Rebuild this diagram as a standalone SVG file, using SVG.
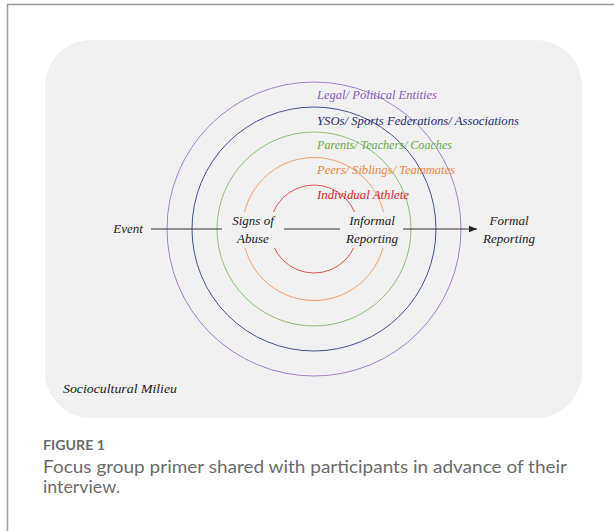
<svg xmlns="http://www.w3.org/2000/svg" width="614" height="531" viewBox="0 0 614 531">
  <defs>
    <marker id="arrowhead" viewBox="0 0 10 10" refX="10" refY="5" markerWidth="8" markerHeight="8" markerUnits="userSpaceOnUse" orient="auto">
      <path d="M0,1 L10,5 L0,9 Z" fill="#222"/>
    </marker>
    <style>
      .frame { stroke: #9a9a9a; stroke-width: 1.5; fill: none; }
      .milieu { fill: #f1f1f1; }
      .ring { fill: none; stroke-width: 1; }
      .lbl { font-family: "Liberation Serif", "Times New Roman", serif; font-style: italic; font-size: 13px; }
      .flow { fill: #1a1a1a; text-anchor: middle; }
      .mask { fill: #f1f1f1; }
      .cap { font-family: Lato, "Open Sans", "Noto Sans", sans-serif; fill: #6b6b6b; }
    </style>
  </defs>

  <rect width="614" height="531" fill="#ffffff"/>

  <!-- page frame -->
  <line class="frame" x1="7" y1="4.5" x2="614" y2="4.5"/>
  <line class="frame" x1="7.5" y1="4" x2="7.5" y2="531"/>

  <!-- sociocultural milieu panel -->
  <rect class="milieu" x="45" y="40" width="537" height="378" rx="46" ry="46"/>

  <!-- concentric system rings -->
  <g id="rings">
    <circle id="ring-legal" class="ring" cx="314" cy="229" r="147" stroke="#a384c8"/>
    <circle id="ring-yso" class="ring" cx="314" cy="229" r="122" stroke="#46528c"/>
    <circle id="ring-parents" class="ring" cx="314" cy="229" r="97" stroke="#8cc27a"/>
    <circle id="ring-peers" class="ring" cx="314" cy="229" r="71.5" stroke="#f0a470"/>
    <circle id="ring-athlete" class="ring" cx="314" cy="229" r="44" stroke="#e05252"/>
  </g>

  <!-- connectors -->
  <g id="connectors">
    <line x1="151" y1="229" x2="477" y2="229" stroke="#333" stroke-width="1" marker-end="url(#arrowhead)"/>
  </g>

  <!-- ring labels -->
  <g id="labels">
    <text class="lbl" x="317" y="99" fill="#8a5cb8" textLength="120" lengthAdjust="spacingAndGlyphs">Legal/ Political Entities</text>
    <text class="lbl" x="317" y="125" fill="#1f2d6e" textLength="202" lengthAdjust="spacingAndGlyphs">YSOs/ Sports Federations/ Associations</text>
    <text class="lbl" x="317" y="149" fill="#6aaa48" textLength="135" lengthAdjust="spacingAndGlyphs">Parents/ Teachers/ Coaches</text>
    <text class="lbl" x="317" y="174" fill="#e8873e" textLength="138" lengthAdjust="spacingAndGlyphs">Peers/ Siblings/ Teammates</text>
    <text class="lbl" x="317" y="199" fill="#e0221e" textLength="92" lengthAdjust="spacingAndGlyphs">Individual Athlete</text>
  </g>

  <!-- process nodes -->
  <g id="event">
    <text class="lbl flow" x="128" y="233">Event</text>
  </g>
  <g id="signs-of-abuse">
    <rect class="mask" x="222" y="212" width="62" height="36"/>
    <text class="lbl flow" x="253" y="225">Signs of</text>
    <text class="lbl flow" x="253" y="243">Abuse</text>
  </g>
  <g id="informal-reporting">
    <rect class="mask" x="340" y="212" width="63" height="36"/>
    <text class="lbl flow" x="372" y="225">Informal</text>
    <text class="lbl flow" x="372" y="243">Reporting</text>
  </g>
  <g id="formal-reporting">
    <text class="lbl flow" x="509" y="225">Formal</text>
    <text class="lbl flow" x="509" y="243">Reporting</text>
  </g>
  <g id="milieu-label">
    <text class="lbl" x="63" y="393" fill="#1a1a1a" textLength="114" lengthAdjust="spacingAndGlyphs">Sociocultural Milieu</text>
  </g>

  <!-- caption -->
  <g id="caption">
    <text class="cap" x="43" y="450" font-size="14" font-weight="700" fill="#707070" textLength="62" lengthAdjust="spacingAndGlyphs">FIGURE 1</text>
    <text class="cap" x="43" y="473" font-size="18" textLength="524" lengthAdjust="spacingAndGlyphs">Focus group primer shared with participants in advance of their</text>
    <text class="cap" x="43" y="493" font-size="18" textLength="77" lengthAdjust="spacingAndGlyphs">interview.</text>
  </g>
</svg>
